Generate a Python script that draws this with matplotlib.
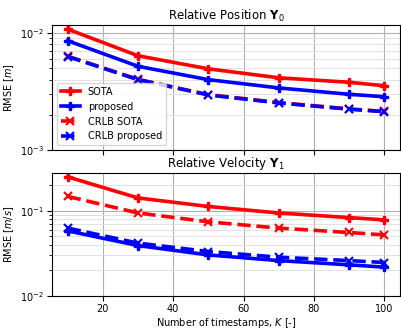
import matplotlib
matplotlib.use("Agg")
import matplotlib.pyplot as plt

K = [10, 30, 50, 70, 90, 100]

# Relative position RMSE [m]
pos_sota = [1.08e-2, 6.4e-3, 4.95e-3, 4.15e-3, 3.8e-3, 3.55e-3]
pos_proposed = [8.6e-3, 5.2e-3, 4.0e-3, 3.4e-3, 3.0e-3, 2.86e-3]
pos_crlb_sota = [6.35e-3, 4.02e-3, 2.98e-3, 2.55e-3, 2.25e-3, 2.14e-3]
pos_crlb_proposed = [6.3e-3, 4.0e-3, 2.96e-3, 2.53e-3, 2.24e-3, 2.13e-3]

# Relative velocity RMSE [m/s]
vel_sota = [0.249, 0.141, 0.112, 0.094, 0.083, 0.078]
vel_proposed = [0.058, 0.039, 0.0303, 0.026, 0.0232, 0.0218]
vel_crlb_sota = [0.147, 0.094, 0.074, 0.0625, 0.0555, 0.052]
vel_crlb_proposed = [0.0625, 0.0417, 0.0332, 0.0285, 0.026, 0.0247]

labels = ["SOTA", "proposed", "CRLB SOTA", "CRLB proposed"]

fig = plt.figure(figsize=(4.02, 3.3), dpi=100)
ax1 = fig.add_axes([0.129, 0.545, 0.866, 0.379])
ax2 = fig.add_axes([0.129, 0.103, 0.866, 0.373], sharex=ax1)

lw = 2.6
ms = 6

def draw(ax, s, p, cs, cp):
    ax.plot(K, s, color="red", marker="P", lw=lw, ms=ms, label=labels[0])
    ax.plot(K, p, color="blue", marker="P", lw=lw, ms=ms, label=labels[1])
    ax.plot(K, cs, color="red", marker="x", ls="--", lw=lw, ms=ms, mew=1.5, label=labels[2])
    ax.plot(K, cp, color="blue", marker="x", ls="--", lw=lw, ms=ms, mew=1.5, label=labels[3])
    ax.set_yscale("log")
    ax.grid(True, which="major", color="#b0b0b0", lw=0.8)
    ax.grid(True, which="minor", axis="y", color="#dddddd", lw=0.6)
    ax.tick_params(labelsize=7, pad=2)

draw(ax1, pos_sota, pos_proposed, pos_crlb_sota, pos_crlb_proposed)
draw(ax2, vel_sota, vel_proposed, vel_crlb_sota, vel_crlb_proposed)

ax1.set_ylim(1e-3, 1.17e-2)
ax2.set_ylim(1e-2, 0.277)
ax1.set_xlim(5.5, 104.5)
ax1.set_xticks([20, 40, 60, 80, 100])
plt.setp(ax1.get_xticklabels(), visible=False)

ax1.set_title(r"Relative Position $\mathbf{Y}_0$", fontsize=8.5, pad=4)
ax2.set_title(r"Relative Velocity $\mathbf{Y}_1$", fontsize=8.5, pad=4)
ax1.set_ylabel(r"RMSE [$m$]", fontsize=7, labelpad=3)
ax2.set_ylabel(r"RMSE [$m/s$]", fontsize=7, labelpad=3)
ax2.set_xlabel(r"Number of timestamps, $K$ [-]", fontsize=7, labelpad=2)

ax1.legend(loc="lower left", fontsize=7, framealpha=0.8)

fig.savefig("out.png", dpi=100)
